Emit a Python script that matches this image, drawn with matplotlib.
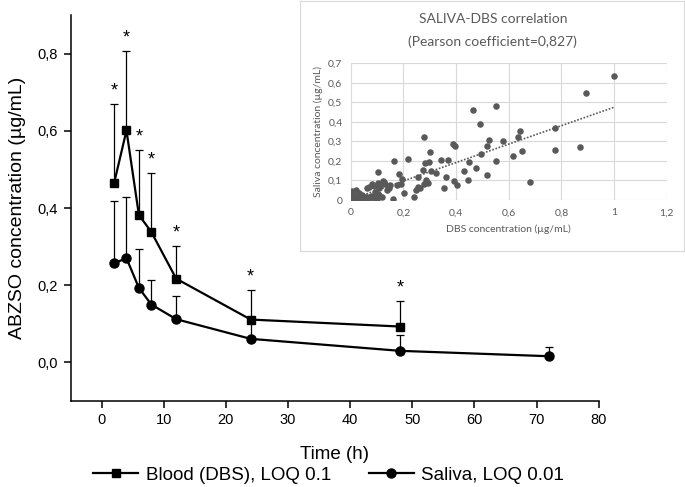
import matplotlib
matplotlib.use("Agg")
import matplotlib.pyplot as plt
import numpy as np
from matplotlib.ticker import FuncFormatter

# main plot (mean and top of error bar)
time_dbs = [2, 4, 6, 8, 12, 24, 48]
dbs_mean = [0.464, 0.601, 0.382, 0.338, 0.217, 0.111, 0.093]
dbs_top = [0.670, 0.807, 0.551, 0.490, 0.302, 0.188, 0.159]

time_sal = [2, 4, 6, 8, 12, 24, 48, 72]
sal_mean = [0.257, 0.270, 0.193, 0.150, 0.112, 0.061, 0.030, 0.016]
sal_top = [0.419, 0.429, 0.293, 0.214, 0.172, 0.110, 0.071, 0.041]

x_ticks = [0, 10, 20, 30, 40, 50, 60, 70, 80]
y_ticks = [0.0, 0.2, 0.4, 0.6, 0.8]

# inset scatter (DBS vs saliva)
dbs_conc = [1.000, 0.895, 0.552, 0.465, 0.491, 0.774, 0.643, 0.634, 0.278, 0.524,
            0.580, 0.387, 0.396, 0.516, 0.870, 0.777, 0.649, 0.301, 0.494, 0.618,
            0.217, 0.164, 0.342, 0.368, 0.451, 0.552, 0.281, 0.298, 0.682, 0.276,
            0.305, 0.324, 0.104, 0.184, 0.430, 0.475, 0.519, 0.362, 0.196, 0.254,
            0.446, 0.287, 0.192, 0.175, 0.391, 0.403, 0.354, 0.292, 0.279, 0.262,
            0.254, 0.248, 0.241, 0.202, 0.161, 0.122, 0.125, 0.103, 0.081, 0.090,
            0.071, 0.063, 0.107, 0.113, 0.144, 0.137, 0.093, 0.109, 0.100, 0.117,
            0.076, 0.055, 0.041, 0.051, 0.019, 0.006, 0.005, 0.010, 0.002, 0.017,
            0.000, 0.025, 0.035, 0.088, 0.060, 0.030, 0.004, 0.070, 0.095, 0.105,
            0.130, 0.149, 0.001, 0.012, 0.045]
saliva_conc = [0.633, 0.548, 0.481, 0.459, 0.391, 0.369, 0.352, 0.321, 0.321, 0.306,
               0.302, 0.288, 0.275, 0.278, 0.271, 0.256, 0.251, 0.248, 0.235, 0.225,
               0.212, 0.198, 0.203, 0.203, 0.196, 0.198, 0.189, 0.193, 0.092, 0.154,
               0.148, 0.140, 0.142, 0.133, 0.150, 0.162, 0.128, 0.118, 0.106, 0.118,
               0.104, 0.101, 0.080, 0.078, 0.096, 0.075, 0.061, 0.085, 0.080, 0.061,
               0.065, 0.050, 0.014, 0.038, 0.006, 0.099, 0.093, 0.089, 0.084, 0.073,
               0.068, 0.063, 0.060, 0.072, 0.063, 0.051, 0.039, 0.024, 0.005, 0.017,
               0.022, 0.017, 0.027, 0.003, 0.053, 0.046, 0.026, 0.009, 0.003, 0.002,
               0.015, 0.018, 0.010, 0.008, 0.015, 0.035, 0.038, 0.010, 0.013, 0.032,
               0.083, 0.077, 0.000, 0.000, 0.006]
trend_x = [0.0, 1.0]
trend_y = [0.003, 0.475]
inset_xticks = [0, 0.2, 0.4, 0.6, 0.8, 1.0, 1.2]
inset_yticks = [0, 0.1, 0.2, 0.3, 0.4, 0.5, 0.6, 0.7]

plt.rcParams['font.family'] = ['Liberation Sans', 'DejaVu Sans']

fig = plt.figure(figsize=(6.85, 4.87), dpi=100)
ax = fig.add_axes([0.103, 0.1766, 0.771, 0.7924])

err_dbs = [np.zeros(len(dbs_mean)), np.array(dbs_top) - np.array(dbs_mean)]
err_sal = [np.zeros(len(sal_mean)), np.array(sal_top) - np.array(sal_mean)]
ax.errorbar(time_sal, sal_mean, yerr=err_sal, fmt='none', ecolor='black',
            elinewidth=0.9, capsize=2.7, capthick=0.9, zorder=2)
ax.errorbar(time_dbs, dbs_mean, yerr=err_dbs, fmt='none', ecolor='black',
            elinewidth=0.9, capsize=2.7, capthick=0.9, zorder=2)
ax.plot(time_sal, sal_mean, color='black', lw=1.6, marker='o', ms=6.5,
        label='Saliva, LOQ 0.01', zorder=3)
ax.plot(time_dbs, dbs_mean, color='black', lw=1.6, marker='s', ms=5.8,
        label='Blood (DBS), LOQ 0.1', zorder=4)

# significance stars above the DBS error bars
for t, top in zip(time_dbs, dbs_top):
    ax.annotate('*', (t, top), xytext=(0, 6), textcoords='offset points',
                ha='center', va='baseline', fontsize=13)

ax.set_xlim(-5, 80)
ax.set_ylim(-0.1, 0.9)
ax.set_xticks(x_ticks)
ax.set_yticks(y_ticks)
ax.yaxis.set_major_formatter(FuncFormatter(lambda v, p: f"{v:.1f}".replace('.', ',')))
ax.spines['top'].set_visible(False)
ax.spines['right'].set_visible(False)
for s in ['left', 'bottom']:
    ax.spines[s].set_linewidth(1.1)
ax.tick_params(direction='out', length=5, width=1.1, labelsize=10.5, pad=4)
ax.set_xlabel('Time (h)', fontsize=13.5, labelpad=13)
ax.set_ylabel('ABZSO concentration (µg/mL)', fontsize=14, labelpad=8)

handles, labels = ax.get_legend_handles_labels()
fig.legend(handles[::-1], labels[::-1], loc='center', bbox_to_anchor=(0.48, 0.024),
           ncol=2, frameon=False, fontsize=13.5, handlelength=2.4,
           handletextpad=0.4, columnspacing=2.0)

# inset box
box = fig.add_axes([0.438, 0.4846, 0.5606, 0.5133])
box.set_xticks([])
box.set_yticks([])
for s in box.spines.values():
    s.set_color('#d9d9d9')
    s.set_linewidth(0.8)

gray = '#595959'
inset_font = ['Lato', 'DejaVu Sans']
fig.text(0.7195, 0.960, 'SALIVA-DBS correlation', ha='center', va='center',
         fontsize=10, color=gray, family=inset_font)
fig.text(0.7195, 0.914, '(Pearson coefficient=0,827)', ha='center', va='center',
         fontsize=10, color=gray, family=inset_font)

ins = fig.add_axes([0.512, 0.5893, 0.4613, 0.2807])
ins.scatter(dbs_conc, saliva_conc, s=22, color=gray, zorder=3, linewidths=0)
ins.plot(trend_x, trend_y, color=gray, lw=1.2, ls=(0, (1, 1)), zorder=2)
ins.set_xlim(0, 1.2)
ins.set_ylim(0, 0.7)
ins.set_xticks(inset_xticks)
ins.set_yticks(inset_yticks)
fmt = FuncFormatter(lambda v, p: ('%g' % round(v, 2)).replace('.', ','))
ins.xaxis.set_major_formatter(fmt)
ins.yaxis.set_major_formatter(fmt)
ins.grid(True, color='#d9d9d9', lw=0.8)
ins.set_axisbelow(True)
for s in ins.spines.values():
    s.set_visible(False)
ins.tick_params(length=0, labelsize=7.5, labelcolor=gray, pad=6)
for lab in ins.get_xticklabels() + ins.get_yticklabels():
    lab.set_family(inset_font)
ins.set_xlabel('DBS concentration (µg/mL)', fontsize=7.5, color=gray,
               family=inset_font, labelpad=5)
ins.set_ylabel('Saliva concentration (µg/mL)', fontsize=7.5, color=gray,
               family=inset_font, labelpad=4)

fig.savefig('out.png', dpi=100)
